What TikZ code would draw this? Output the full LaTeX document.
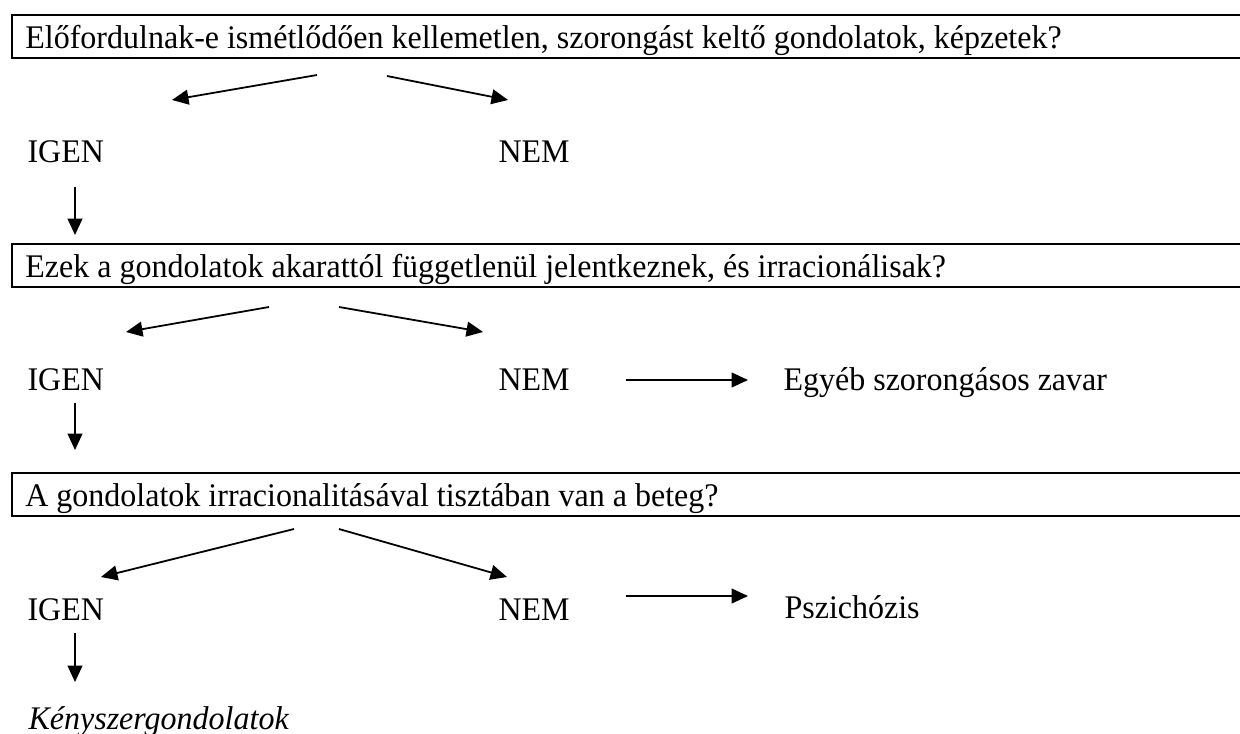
\documentclass[tikz,border=0pt]{standalone}
\usepackage{fontspec}
\setmainfont[FakeStretch=0.97]{Liberation Serif}
\usetikzlibrary{arrows.meta}

\begin{document}
\begin{tikzpicture}[
  x=0.3637pt,y=-0.3637pt,
  font=\fontsize{12}{14.4}\selectfont,
  qbox/.style={draw,line width=0.85pt,anchor=north west,inner xsep=4.8pt,inner ysep=0pt,text width=440pt,align=flush left,text height=12pt,text depth=3.64pt},
  answer/.style={anchor=base west,inner sep=0pt},
  arrow/.style={-{Triangle[length=6pt,width=5.4pt]},line width=0.65pt}
]
\useasboundingbox (0,0) rectangle (1240,733);
% first question
\node[qbox] (q1) at (11,14) {Előfordulnak-e ismétlődően kellemetlen, szorongást keltő gondolatok, képzetek?};
\node[answer] (igen1) at (27,162) {IGEN};
\node[answer] (nem1) at (498,162) {NEM};
\coordinate (q1l) at (317,75);
\coordinate (q1r) at (387,76);
\coordinate (igen1t) at (172,100);
\coordinate (nem1t) at (508,100);
\draw[arrow] (q1l) -- (igen1t);
\draw[arrow] (q1r) -- (nem1t);
\coordinate (igen1d) at (75,187);
\coordinate (q2in) at (75,235);
\draw[arrow] (igen1d) -- (q2in);
% second question
\node[qbox] (q2) at (11,243) {Ezek a gondolatok akarattól függetlenül jelentkeznek, és irracionálisak?};
\node[answer] (igen2) at (27,390) {IGEN};
\node[answer] (nem2) at (498,390) {NEM};
\node[answer] (egyeb) at (783,390) {Egyéb szorongásos zavar};
\coordinate (q2l) at (269,307);
\coordinate (q2r) at (339,307);
\coordinate (igen2t) at (126,332);
\coordinate (nem2t) at (483,332);
\draw[arrow] (q2l) -- (igen2t);
\draw[arrow] (q2r) -- (nem2t);
\coordinate (nem2e) at (626,380);
\coordinate (egyebw) at (748,380);
\draw[arrow] (nem2e) -- (egyebw);
\coordinate (igen2d) at (75,403);
\coordinate (q3in) at (75,450);
\draw[arrow] (igen2d) -- (q3in);
% third question
\node[qbox] (q3) at (11,472) {A gondolatok irracionalitásával tisztában van a beteg?};
\node[answer] (igen3) at (27,620) {IGEN};
\node[answer] (nem3) at (498,620) {NEM};
\node[answer] (pszich) at (784,618) {Pszichózis};
\coordinate (q3l) at (294,529);
\coordinate (q3r) at (339,529);
\coordinate (igen3t) at (101,577);
\coordinate (nem3t) at (507,577);
\draw[arrow] (q3l) -- (igen3t);
\draw[arrow] (q3r) -- (nem3t);
\coordinate (nem3e) at (626,596);
\coordinate (pszichw) at (748,596);
\draw[arrow] (nem3e) -- (pszichw);
\coordinate (igen3d) at (75,633);
\coordinate (kenyt) at (75,682);
\draw[arrow] (igen3d) -- (kenyt);
\node[answer,font=\fontsize{12}{14.4}\selectfont\itshape] (keny) at (28,729) {Kényszergondolatok};
\end{tikzpicture}
\end{document}
